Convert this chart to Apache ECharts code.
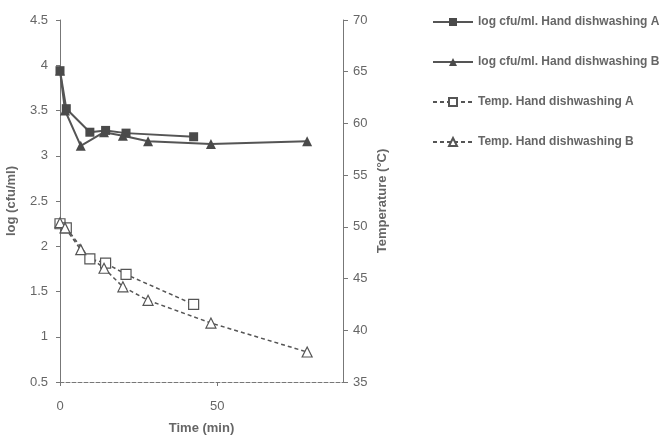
<!DOCTYPE html>
<html>
<head>
<meta charset="utf-8">
<script src="https://cdn.jsdelivr.net/npm/echarts@6/dist/echarts.min.js"></script>
<style>
	html, body { margin: 0; padding: 0; background: #fff; }
	#chart { width: 667px; height: 435px; }
</style>
</head>
<body>
<div id="chart"></div>
<script>
	// hand dishwashing A / B, time in minutes
	var timeA = [0, 2, 9.5, 14.5, 21, 42.5];
	var logA = [3.94, 3.52, 3.26, 3.28, 3.25, 3.21];
	var tempA = [50.3, 49.9, 46.9, 46.5, 45.4, 42.5];

	var timeB = [0, 1.6, 6.6, 14, 20, 28, 48, 78.6];
	var logB = [3.94, 3.50, 3.11, 3.26, 3.22, 3.16, 3.13, 3.16];
	var tempB = [50.4, 49.9, 47.8, 46.0, 44.2, 42.9, 40.7, 37.9];

	var names = [
		'log cfu/ml. Hand dishwashing A',
		'log cfu/ml. Hand dishwashing B',
		'Temp. Hand dishwashing A',
		'Temp. Hand dishwashing B'
	];

	function pairs(xs, ys) {
		var out = [];
		for(var i = 0; i < xs.length; i++) {
			out.push([xs[i], ys[i]]);
		}
		return out;
	}

	var ink = '#555';
	var txt = '#666';
	var font = 'Liberation Sans, Arial, sans-serif';

	var chart = echarts.init(document.getElementById('chart'));
	chart.setOption({
		animation: false,
		textStyle: { fontFamily: font },
		grid: { left: 60, right: 324, top: 20, bottom: 53, outerBoundsMode: 'none' },
		legend: {
			orient: 'vertical',
			left: 427,
			top: 11,
			itemWidth: 40,
			itemHeight: 10,
			itemGap: 28,
			textStyle: { color: txt, fontSize: 12, fontWeight: 'bold', fontFamily: font },
			data: names
		},
		xAxis: {
			type: 'value',
			min: 0,
			max: 90,
			interval: 50,
			name: 'Time (min)',
			nameLocation: 'middle',
			nameGap: 40,
			nameTextStyle: { color: txt, fontSize: 13, fontWeight: 'bold' },
			axisLine: { lineStyle: { color: '#777', type: 'dashed' } },
			axisTick: { show: true, length: 4, lineStyle: { color: '#777' } },
			axisLabel: { color: txt, fontSize: 13, margin: 18, showMaxLabel: false },
			splitLine: { show: false }
		},
		yAxis: [{
			type: 'value',
			min: 0.5,
			max: 4.5,
			interval: 0.5,
			name: 'log (cfu/ml)',
			nameLocation: 'middle',
			nameGap: 42,
			nameTextStyle: { color: txt, fontSize: 13, fontWeight: 'bold' },
			axisLine: { show: true, lineStyle: { color: '#777' } },
			axisTick: { show: true, length: 4, lineStyle: { color: '#777' } },
			axisLabel: { color: txt, fontSize: 13, margin: 12 },
			splitLine: { show: false }
		}, {
			type: 'value',
			min: 35,
			max: 70,
			interval: 5,
			name: 'Temperature (°C)',
			nameLocation: 'middle',
			nameGap: 33,
			nameTextStyle: { color: txt, fontSize: 13, fontWeight: 'bold' },
			axisLine: { show: true, lineStyle: { color: '#777' } },
			axisTick: { show: true, length: 5, lineStyle: { color: '#777' } },
			axisLabel: { color: txt, fontSize: 13, margin: 10 },
			splitLine: { show: false }
		}],
		series: [{
			name: names[0],
			type: 'line',
			yAxisIndex: 0,
			data: pairs(timeA, logA),
			symbol: 'rect',
			symbolSize: 9,
			itemStyle: { color: '#4a4a4a' },
			lineStyle: { color: ink, width: 2 }
		}, {
			name: names[1],
			type: 'line',
			yAxisIndex: 0,
			data: pairs(timeB, logB),
			symbol: 'triangle',
			symbolSize: 10,
			itemStyle: { color: '#4a4a4a' },
			lineStyle: { color: ink, width: 2 }
		}, {
			name: names[2],
			type: 'line',
			yAxisIndex: 1,
			data: pairs(timeA, tempA),
			symbol: 'rect',
			symbolSize: 10,
			itemStyle: { color: '#fff', borderColor: ink, borderWidth: 1.2 },
			lineStyle: { color: ink, width: 1.5, type: [4, 3] }
		}, {
			name: names[3],
			type: 'line',
			yAxisIndex: 1,
			data: pairs(timeB, tempB),
			symbol: 'triangle',
			symbolSize: 10,
			itemStyle: { color: '#fff', borderColor: ink, borderWidth: 1.2 },
			lineStyle: { color: ink, width: 1.5, type: [4, 3] }
		}]
	});
</script>
</body>
</html>
